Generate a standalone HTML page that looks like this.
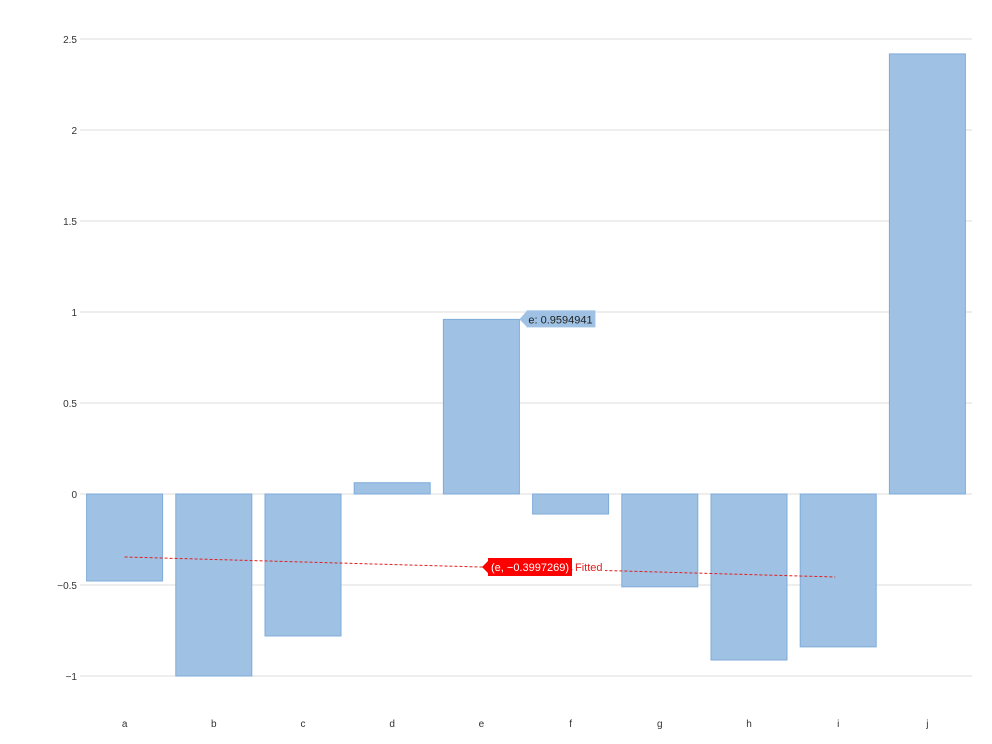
<!DOCTYPE html>
<html><head><meta charset="utf-8"><style>
html,body{margin:0;padding:0;background:#fff;width:992px;height:744px;overflow:hidden}
svg{display:block;font-family:"Liberation Sans",sans-serif}
</style></head><body>
<svg id="chart" width="992" height="744"></svg>
<script>
const categories=["a","b","c","d","e","f","g","h","i","j"];
const values=[-0.478,-1.0,-0.78,0.062,0.9594941,-0.11,-0.51,-0.912,-0.84,2.418];
const yTicks=[-1,-0.5,0,0.5,1,1.5,2,2.5];
const yTickLabels=["\u22121","\u22120.5","0","0.5","1","1.5","2","2.5"];
const fitStart=-0.346, fitEnd=-0.456;
const fitLabel="(e, \u22120.3997269)";
const tipLabel="e: 0.9594941";

const NS="http://www.w3.org/2000/svg";
const svg=document.getElementById('chart');
const L=80,R=972;
const band=(R-L)/categories.length;
const xC=i=>L+band*(i+0.5);
const y=v=>494-v*182;
function el(t,a,p){const e=document.createElementNS(NS,t);for(const k in a)e.setAttribute(k,a[k]);(p||svg).appendChild(e);return e;}

yTicks.forEach((t,i)=>{
  const g=el('line',{x1:L,x2:R,y1:y(t),y2:y(t),stroke:'#dddddd','stroke-width':1});
  
  
  const tx=el('text',{x:77,y:y(t)+4,'text-anchor':'end','font-size':10,fill:'#333'});
  tx.textContent=yTickLabels[i];
  
  
});
categories.forEach((c,i)=>{
  const v=values[i];
  const r=el('rect',{x:xC(i)-38,y:Math.min(y(v),y(0)),width:76,height:Math.abs(y(v)-y(0)),fill:'#9fc2e4',stroke:'#7fabd9','stroke-width':1});
  
  
  const tx=el('text',{x:xC(i),y:727,'text-anchor':'middle','font-size':10,fill:'#333'});
  tx.textContent=c;
  
  
});
const fl=el('line',{x1:xC(0),y1:y(fitStart),x2:xC(8)-3,y2:y(fitEnd),stroke:'#e02020','stroke-width':1,'stroke-dasharray':'3,2'});



// tooltip at e
const ei=4, tx0=xC(ei)+45, ty=y(values[ei]);
const tp=el('path',{d:`M${tx0-7} ${ty} L${tx0} ${ty-8} L${tx0} ${ty-9} L${tx0+69} ${ty-9} L${tx0+69} ${ty+8} L${tx0} ${ty+8} L${tx0} ${ty+7} Z`,fill:'#9fc2e4'});


const tt=el('text',{x:tx0+2,y:ty+4,'font-size':11,fill:'#222'});
tt.textContent=tipLabel;



// fitted label
const fx=488, fy=567;
const bg=el('rect',{x:573,y:fy-8,width:32,height:16,fill:'#fff'});


const fp=el('path',{d:`M${fx-6} ${fy} L${fx} ${fy-6} L${fx} ${fy-9} L${fx+84} ${fy-9} L${fx+84} ${fy+9} L${fx} ${fy+9} L${fx} ${fy+6} Z`,fill:'#ff0000'});


const ft=el('text',{x:fx+3,y:fy+4,'font-size':11,fill:'#fff'});
ft.textContent=fitLabel;


const ft2=el('text',{x:575,y:fy+4,'font-size':11,fill:'#e02020'});
ft2.textContent="Fitted";


</script>
</body></html>
